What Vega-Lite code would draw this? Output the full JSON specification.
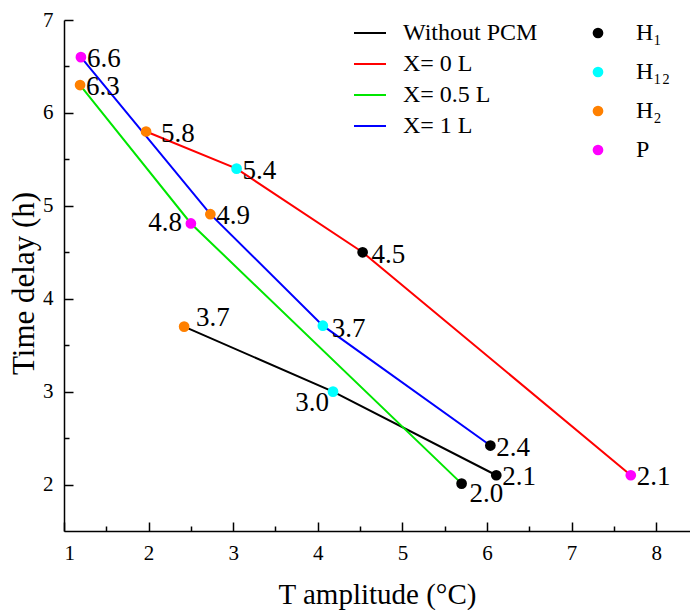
{
  "$schema": "https://vega.github.io/schema/vega-lite/v6.json",
  "width": 626,
  "height": 511,
  "autosize": {"type": "none"},
  "padding": {"left": 64, "top": 20, "right": 0, "bottom": 79},
  "background": "white",
  "config": {
    "font": "Liberation Serif, Times New Roman, serif",
    "view": {"stroke": null},
    "text": {"font": "Liberation Serif, Times New Roman, serif"},
    "axis": {
      "grid": false,
      "domainColor": "black",
      "tickColor": "black",
      "labelColor": "black",
      "titleColor": "black",
      "domainWidth": 1.5,
      "tickWidth": 1.5,
      "titleFontWeight": "normal",
      "labelFont": "Liberation Serif, Times New Roman, serif",
      "titleFont": "Liberation Serif, Times New Roman, serif"
    },
    "legend": {"labelFont": "Liberation Serif, Times New Roman, serif", "labelColor": "black"}
  },
  "data": {
    "values": [
      {"t": 2.42, "d": 3.7, "series": "Without PCM", "loc": "H₂", "lab": "3.7"},
      {"t": 4.18, "d": 3.0, "series": "Without PCM", "loc": "H₁₂", "lab": "3.0"},
      {"t": 6.11, "d": 2.1, "series": "Without PCM", "loc": "H₁", "lab": "2.1"},
      {"t": 1.97, "d": 5.8, "series": "X= 0 L", "loc": "H₂", "lab": "5.8"},
      {"t": 3.04, "d": 5.4, "series": "X= 0 L", "loc": "H₁₂", "lab": "5.4"},
      {"t": 4.53, "d": 4.5, "series": "X= 0 L", "loc": "H₁", "lab": "4.5"},
      {"t": 7.70, "d": 2.1, "series": "X= 0 L", "loc": "P", "lab": "2.1"},
      {"t": 1.19, "d": 6.3, "series": "X= 0.5 L", "loc": "H₂", "lab": "6.3"},
      {"t": 2.50, "d": 4.81, "series": "X= 0.5 L", "loc": "P", "lab": "4.8"},
      {"t": 5.70, "d": 2.01, "series": "X= 0.5 L", "loc": "H₁", "lab": "2.0"},
      {"t": 1.20, "d": 6.6, "series": "X= 1 L", "loc": "P", "lab": "6.6"},
      {"t": 2.73, "d": 4.91, "series": "X= 1 L", "loc": "H₂", "lab": "4.9"},
      {"t": 4.06, "d": 3.71, "series": "X= 1 L", "loc": "H₁₂", "lab": "3.7"},
      {"t": 6.04, "d": 2.42, "series": "X= 1 L", "loc": "H₁", "lab": "2.4"}
    ]
  },
  "layer": [
    {
      "mark": {"type": "line", "strokeWidth": 2, "interpolate": "linear"},
      "encoding": {
        "x": {"field": "t", "type": "quantitative", "scale": {"domain": [1, 8.4], "nice": false, "zero": false},
          "axis": {"values": [1, 2, 3, 4, 5, 6, 7, 8], "tickSize": -9, "labelFontSize": 21, "labelPadding": 20,
            "title": "T amplitude (°C)", "titleFontSize": 29, "titleX": 313, "titleY": 72, "titleAlign": "center", "titleBaseline": "alphabetic"}},
        "y": {"field": "d", "type": "quantitative", "scale": {"domain": [1.5, 7], "nice": false, "zero": false},
          "axis": {"values": [2, 3, 4, 5, 6, 7], "tickSize": -9, "labelFontSize": 21, "labelPadding": 20,
            "title": "Time delay (h)", "titleFontSize": 31, "titleX": -31, "titleY": 263, "titleAlign": "center", "titleBaseline": "alphabetic", "titleAngle": -90}},
        "stroke": {"field": "series", "type": "nominal",
          "scale": {"domain": ["Without PCM", "X= 0 L", "X= 0.5 L", "X= 1 L"], "range": ["#000000", "#ff0000", "#00e600", "#0000ff"]},
          "legend": {"orient": "none", "legendX": 289, "legendY": -4, "title": null, "symbolType": "stroke", "symbolSize": 1024, "symbolStrokeWidth": 2, "labelFontSize": 24, "labelOffset": 16, "rowPadding": 2, "padding": 0}},
        "order": {"field": "t", "type": "quantitative"}
      }
    },
    {
      "mark": {"type": "point", "filled": true, "size": 115, "opacity": 1},
      "encoding": {
        "x": {"field": "t", "type": "quantitative",
          "axis": {"values": [1.5, 2.5, 3.5, 4.5, 5.5, 6.5, 7.5], "tickSize": -5, "labels": false, "domain": false, "title": null, "orient": "bottom"}},
        "y": {"field": "d", "type": "quantitative",
          "axis": {"values": [2.5, 3.5, 4.5, 5.5, 6.5], "tickSize": -5, "labels": false, "domain": false, "title": null, "orient": "left"}},
        "fill": {"field": "loc", "type": "nominal",
          "scale": {"domain": ["H₁", "H₁₂", "H₂", "P"], "range": ["#000000", "#00ffff", "#ff8000", "#ff00ff"]},
          "legend": {"orient": "none", "legendX": 522, "legendY": 1, "title": null, "symbolType": "circle", "symbolSize": 115, "labelFontSize": 24, "labelOffset": 26, "rowPadding": 15, "padding": 0}}
      }
    },
    {
      "transform": [{"filter": "datum.lab=='6.6' || datum.lab=='6.3' || datum.lab=='5.4' || datum.lab=='4.9' || datum.lab=='2.4' || datum.lab=='2.1'"}],
      "mark": {"type": "text", "font": "Liberation Serif, Times New Roman, serif", "align": "left", "baseline": "middle", "dx": 6, "dy": 2, "fontSize": 27, "color": "black"},
      "encoding": {
        "x": {"field": "t", "type": "quantitative", "axis": null},
        "y": {"field": "d", "type": "quantitative", "axis": null},
        "text": {"field": "lab"}
      }
    },
    {
      "transform": [{"filter": "datum.lab=='5.8'"}],
      "mark": {"type": "text", "font": "Liberation Serif, Times New Roman, serif", "align": "left", "baseline": "middle", "dx": 15, "dy": 3, "fontSize": 27, "color": "black"},
      "encoding": {
        "x": {"field": "t", "type": "quantitative", "axis": null},
        "y": {"field": "d", "type": "quantitative", "axis": null},
        "text": {"field": "lab"}
      }
    },
    {
      "transform": [{"filter": "datum.lab=='4.5' || (datum.lab=='3.7' && datum.series=='X= 1 L')"}],
      "mark": {"type": "text", "font": "Liberation Serif, Times New Roman, serif", "align": "left", "baseline": "middle", "dx": 9, "dy": 3, "fontSize": 27, "color": "black"},
      "encoding": {
        "x": {"field": "t", "type": "quantitative", "axis": null},
        "y": {"field": "d", "type": "quantitative", "axis": null},
        "text": {"field": "lab"}
      }
    },
    {
      "transform": [{"filter": "datum.lab=='3.7' && datum.series=='Without PCM'"}],
      "mark": {"type": "text", "font": "Liberation Serif, Times New Roman, serif", "align": "left", "baseline": "middle", "dx": 12, "dy": -9, "fontSize": 27, "color": "black"},
      "encoding": {
        "x": {"field": "t", "type": "quantitative", "axis": null},
        "y": {"field": "d", "type": "quantitative", "axis": null},
        "text": {"field": "lab"}
      }
    },
    {
      "transform": [{"filter": "datum.lab=='2.0'"}],
      "mark": {"type": "text", "font": "Liberation Serif, Times New Roman, serif", "align": "left", "baseline": "middle", "dx": 8, "dy": 10, "fontSize": 27, "color": "black"},
      "encoding": {
        "x": {"field": "t", "type": "quantitative", "axis": null},
        "y": {"field": "d", "type": "quantitative", "axis": null},
        "text": {"field": "lab"}
      }
    },
    {
      "transform": [{"filter": "datum.lab=='4.8'"}],
      "mark": {"type": "text", "font": "Liberation Serif, Times New Roman, serif", "align": "right", "baseline": "middle", "dx": -9, "dy": 0, "fontSize": 27, "color": "black"},
      "encoding": {
        "x": {"field": "t", "type": "quantitative", "axis": null},
        "y": {"field": "d", "type": "quantitative", "axis": null},
        "text": {"field": "lab"}
      }
    },
    {
      "transform": [{"filter": "datum.lab=='3.0'"}],
      "mark": {"type": "text", "font": "Liberation Serif, Times New Roman, serif", "align": "right", "baseline": "middle", "dx": -4, "dy": 11, "fontSize": 27, "color": "black"},
      "encoding": {
        "x": {"field": "t", "type": "quantitative", "axis": null},
        "y": {"field": "d", "type": "quantitative", "axis": null},
        "text": {"field": "lab"}
      }
    }
  ],
  "resolve": {"axis": {"x": "independent", "y": "independent"}}
}
